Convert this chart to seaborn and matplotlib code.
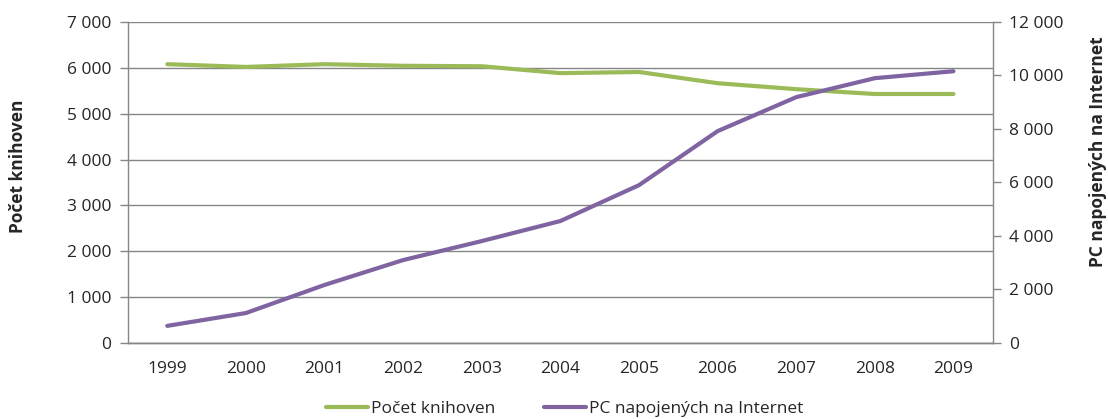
import matplotlib
matplotlib.use('Agg')
import matplotlib.pyplot as plt
import matplotlib.ticker as mticker
import seaborn as sb
import pandas as pd

# data
years = ['1999', '2000', '2001', '2002', '2003', '2004', '2005', '2006', '2007', '2008', '2009']
knihovny = [6080, 6020, 6080, 6045, 6035, 5885, 5910, 5665, 5535, 5430, 5430]
pc_internet = [640, 1120, 2170, 3100, 3810, 4560, 5900, 7920, 9190, 9900, 10160]

GREEN = '#9BBB59'
PURPLE = '#8064A2'
GRID = '#868686'

sb.set_style('white')
plt.rcParams['font.family'] = ['Open Sans', 'DejaVu Sans']

df = pd.DataFrame({'pos': range(len(years)), 'knihovny': knihovny, 'pc': pc_internet})

fig = plt.figure(figsize=(11.08, 4.19), dpi=100)
ax = fig.add_axes([0.1155, 0.1814, 0.7805, 0.7661])
ax2 = ax.twinx()

sb.lineplot(data=df, x='pos', y='knihovny', ax=ax, color=GREEN, linewidth=3.0, label='Počet knihoven', legend=False)
sb.lineplot(data=df, x='pos', y='pc', ax=ax2, color=PURPLE, linewidth=3.0, label='PC napojených na Internet', legend=False)

def space_fmt(v, p):
    return '{:,.0f}'.format(v).replace(',', ' ')

ax.set_ylim(0, 7000)
ax.set_yticks(range(0, 7001, 1000))
ax.yaxis.set_major_formatter(mticker.FuncFormatter(space_fmt))
ax2.set_ylim(0, 12000)
ax2.set_yticks(range(0, 12001, 2000))
ax2.yaxis.set_major_formatter(mticker.FuncFormatter(space_fmt))

ax.set_xlim(-0.5, len(years) - 0.5)
ax.set_xticks(range(len(years)))
ax.set_xticklabels(years)
ax.set_xticks([i - 0.5 for i in range(len(years) + 1)], minor=True)
ax.tick_params(axis='x', which='major', length=0, pad=13, labelsize=12.5)
ax.tick_params(axis='x', which='minor', length=6, width=1, color=GRID, direction='out')
ax.tick_params(axis='y', length=6, width=1, color=GRID, direction='out', labelsize=12.5, pad=6)
ax2.tick_params(axis='y', length=6, width=1, color=GRID, direction='out', labelsize=12.5, pad=6)

ax.grid(axis='y', color=GRID, linewidth=1)
ax.set_axisbelow(True)
for a in (ax, ax2):
    a.spines['top'].set_visible(False)
    for s in ('left', 'right', 'bottom'):
        a.spines[s].set_color(GRID)
        a.spines[s].set_linewidth(1)
ax2.spines['left'].set_visible(False)
ax.spines['right'].set_visible(False)

ax.set_xlabel('')
ax.set_ylabel('Počet knihoven', fontsize=12.5, fontweight='bold', va='center')
ax2.set_ylabel('PC napojených na Internet', fontsize=12.5, fontweight='bold', va='center')
# axis titles sit a bit above centre, like in the original
ax.yaxis.set_label_coords(-0.127, 0.55)
ax2.yaxis.set_label_coords(1.122, 0.595)

h1, l1 = ax.get_legend_handles_labels()
h2, l2 = ax2.get_legend_handles_labels()
fig.legend(h1 + h2, l1 + l2, loc='center', bbox_to_anchor=(0.51, 0.025), ncol=2, frameon=False,
           fontsize=12.5, handlelength=2.4, handletextpad=0.2, columnspacing=2.8)

fig.savefig('out.png', dpi=100)
